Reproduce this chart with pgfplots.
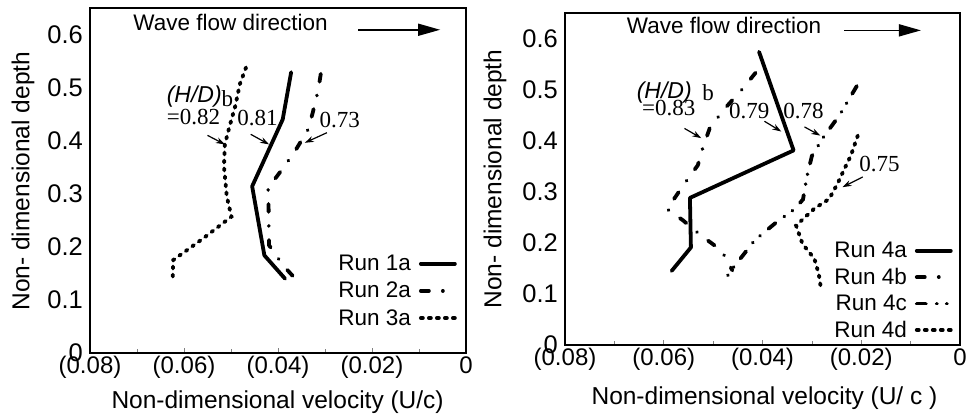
\documentclass[border=0pt]{standalone}
\usepackage{fontspec}
\setmainfont{Liberation Sans}
\newfontfamily\tnr{Liberation Serif}
\usepackage{pgfplots}
\pgfplotsset{compat=1.18}
\usetikzlibrary{arrows.meta}
\begin{document}
\begin{tikzpicture}
\path[use as bounding box] (0pt,0pt) rectangle (969pt,419pt);
\tikzset{
  s1/.style={black, line width=3.8pt, line cap=round, line join=round},
  s2/.style={black, line width=3.8pt, line cap=round, dash pattern=on 8pt off 14pt on 0.01pt off 14pt},
  s3/.style={black, line width=3.8pt, line cap=round, dash pattern=on 2pt off 6pt},
  s4c/.style={black, line width=3.8pt, line cap=round, dash pattern=on 9pt off 11pt on 0.01pt off 10pt on 0.01pt off 11pt},
  ann/.style={line width=1.2pt, -{Stealth[length=9pt,width=6pt]}},
  big/.style={line width=1.6pt, -{Triangle[length=22pt,width=12pt]}},
}
\pgfplotsset{
  panel/.style={
    scale only axis,
    anchor=south west,
    xmin=-0.08, xmax=0, ymin=0, ymax=0.65,
    scaled x ticks=false, scaled y ticks=false,
    xtick={-0.08,-0.06,-0.04,-0.02,0},
    xticklabels={(0.08),(0.06),(0.04),(0.02),0},
    minor xtick={-0.07,-0.05,-0.03,-0.01},
    ytick={0,0.1,0.2,0.3,0.4,0.5,0.6},
    yticklabels={0,0.1,0.2,0.3,0.4,0.5,0.6},
    xtick pos=bottom,
    ytick style={draw=none},
    xtick style={gray, line width=0.6pt},
    tick align=inside,
    major tick length=5pt, minor tick length=4pt,
    axis line style={line width=1.6pt},
    xticklabel style={font=\fontsize{24}{28}\selectfont},
    yticklabel style={font=\fontsize{25.5}{28}\selectfont, anchor=east, inner sep=0pt, xshift=-7pt},
    label style={font=\fontsize{24.5}{28}\selectfont},
    clip=false,
    legend plot pos=right,
    legend cell align=right,
    legend image code/.code={\draw[##1] (0pt,0pt) -- (34pt,0pt);},
  },
}
% ---------------- left panel ----------------
\begin{axis}[panel,
  at={(90pt,66pt)}, width=376pt, height=345pt,
  xlabel={Non-dimensional velocity (U/c)},
  ylabel={Non- dimensional depth},
  xlabel style={at={(axis description cs:0.499,-0.142)}, anchor=center},
  ylabel style={at={(axis description cs:-0.178,0.498)}, anchor=center},
  legend style={draw=none, fill=none, at={(axis description cs:0.976,0.284)}, anchor=north east,
    font=\fontsize{22.5}{24}\selectfont, row sep=10pt, column sep=8pt, inner sep=0pt,
    nodes={inner sep=0pt}},
]
\addplot[s1] coordinates {(-0.0372,0.529) (-0.0390,0.440) (-0.0455,0.314) (-0.0429,0.184) (-0.0385,0.140)};
\addlegendentry{Run 1a}
\addplot[s2] coordinates {(-0.0309,0.526) (-0.0314,0.497) (-0.0326,0.453) (-0.0336,0.421) (-0.0364,0.380) (-0.0392,0.345) (-0.0421,0.311) (-0.0420,0.272) (-0.0419,0.203) (-0.0389,0.165) (-0.0350,0.127)};
\addlegendentry{Run 2a}
\addplot[s3] coordinates {(-0.0468,0.538) (-0.0481,0.507) (-0.0491,0.465) (-0.0504,0.424) (-0.0513,0.393) (-0.0515,0.352) (-0.0509,0.295) (-0.0499,0.257) (-0.0559,0.216) (-0.0623,0.175) (-0.0624,0.137)};
\addlegendentry{Run 3a}
\node[anchor=base west, inner sep=0pt, font=\fontsize{22.5}{26}\selectfont] at (axis cs:-0.0708,0.608) {Wave flow direction};
\draw[big] (axis cs:-0.0229,0.609) -- (axis cs:-0.0055,0.609);
\node[anchor=base west, inner sep=0pt, font=\fontsize{23}{26}\selectfont] at (axis cs:-0.0637,0.472) {\itshape (H/D)\upshape\raisebox{-4pt}{\tnr b}};
\node[anchor=base west, inner sep=0pt, font=\fontsize{23}{26}\tnr] at (axis cs:-0.0637,0.431) {=0.82};
\node[anchor=base west, inner sep=0pt, font=\fontsize{23}{26}\tnr] at (axis cs:-0.0487,0.429) {0.81};
\node[anchor=base west, inner sep=0pt, font=\fontsize{23}{26}\tnr] at (axis cs:-0.0312,0.424) {0.73};
\draw[ann] (axis cs:-0.0550,0.410) -- (axis cs:-0.0513,0.393);
\draw[ann] (axis cs:-0.0458,0.412) -- (axis cs:-0.0419,0.393);
\draw[ann] (axis cs:-0.0296,0.415) -- (axis cs:-0.0343,0.396);
\end{axis}
% ---------------- right panel ----------------
\begin{axis}[panel,
  at={(565pt,74pt)}, width=395pt, height=332pt,
  xlabel={Non-dimensional velocity (U/ c )},
  ylabel={Non- dimensional depth},
  xlabel style={at={(axis description cs:0.505,-0.159)}, anchor=center},
  ylabel style={at={(axis description cs:-0.177,0.50)}, anchor=center},
  legend style={draw=none, fill=none, at={(axis description cs:0.982,0.310)}, anchor=north east,
    font=\fontsize{22.5}{24}\selectfont, row sep=9pt, column sep=8pt, inner sep=0pt,
    nodes={inner sep=0pt}},
]
\addplot[s1] coordinates {(-0.0407,0.574) (-0.0337,0.381) (-0.0547,0.288) (-0.0545,0.191) (-0.0584,0.145)};
\addlegendentry{Run 4a}
\addplot[s2] coordinates {(-0.0414,0.533) (-0.0440,0.502) (-0.0480,0.459) (-0.0507,0.424) (-0.0521,0.386) (-0.0531,0.352) (-0.0561,0.312) (-0.0593,0.266) (-0.0561,0.244) (-0.0524,0.214) (-0.0483,0.185) (-0.0461,0.146)};
\addlegendentry{Run 4b}
\addplot[s4c] coordinates {(-0.0209,0.507) (-0.0244,0.450) (-0.0278,0.405) (-0.0300,0.370) (-0.0310,0.330) (-0.0318,0.285) (-0.0335,0.266) (-0.0371,0.241) (-0.0416,0.205) (-0.0440,0.175) (-0.0455,0.157) (-0.0480,0.123)};
\addlegendentry{Run 4c}
\addplot[s3] coordinates {(-0.0207,0.410) (-0.0221,0.371) (-0.0234,0.345) (-0.0248,0.316) (-0.0265,0.286) (-0.0295,0.267) (-0.0332,0.234) (-0.0319,0.198) (-0.0295,0.169) (-0.0286,0.139) (-0.0281,0.106)};
\addlegendentry{Run 4d}
\node[anchor=base west, inner sep=0pt, font=\fontsize{22.5}{26}\selectfont] at (axis cs:-0.0675,0.610) {Wave flow direction};
\draw[big] (axis cs:-0.0234,0.616) -- (axis cs:-0.0079,0.616);
\node[anchor=base west, inner sep=0pt, font=\fontsize{23}{26}\selectfont\itshape] at (axis cs:-0.0655,0.482) {(H/D)};
\node[anchor=base west, inner sep=0pt, font=\fontsize{23}{26}\tnr] at (axis cs:-0.0522,0.479) {b};
\node[anchor=base west, inner sep=0pt, font=\fontsize{23}{26}\tnr] at (axis cs:-0.0644,0.450) {=0.83};
\node[anchor=base west, inner sep=0pt, font=\fontsize{23}{26}\tnr] at (axis cs:-0.0468,0.443) {0.79};
\node[anchor=base west, inner sep=0pt, font=\fontsize{23}{26}\tnr] at (axis cs:-0.0358,0.443) {0.78};
\node[anchor=base west, inner sep=0pt, font=\fontsize{23}{26}\tnr] at (axis cs:-0.0204,0.339) {0.75};
\draw[ann] (axis cs:-0.0558,0.424) -- (axis cs:-0.0524,0.405);
\draw[ann] (axis cs:-0.0396,0.438) -- (axis cs:-0.0362,0.418);
\draw[ann] (axis cs:-0.0315,0.427) -- (axis cs:-0.0283,0.410);
\draw[ann] (axis cs:-0.0197,0.329) -- (axis cs:-0.0238,0.309);
\end{axis}
\end{tikzpicture}
\end{document}
